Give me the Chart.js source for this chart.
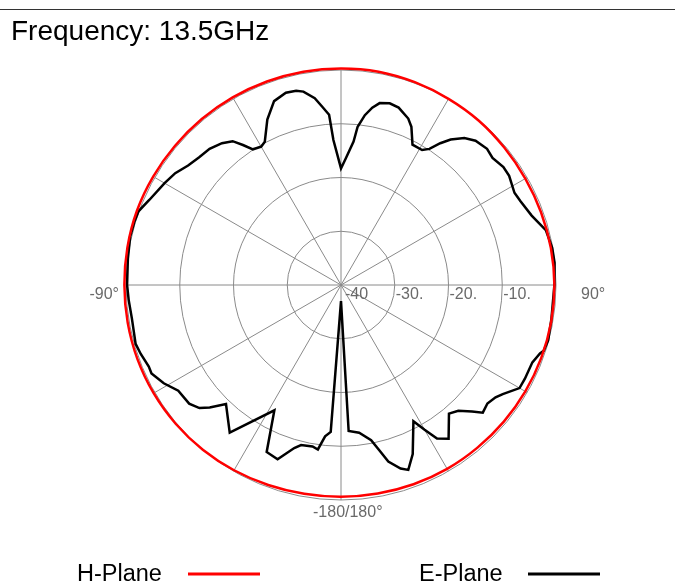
<!DOCTYPE html>
<html>
<head>
<meta charset="utf-8">
<script src="https://cdn.jsdelivr.net/npm/chart.js@4/dist/chart.umd.min.js"></script>
<style>
html,body{margin:0;padding:0;background:#ffffff;}
#wrap{position:relative;width:675px;height:584px;overflow:hidden;}
canvas{display:block;}
</style>
</head>
<body>
<div id="wrap"><canvas id="c" width="675" height="584"></canvas></div>
<script>
// ---- data (angles in degrees, clockwise from top; values in dB) ----
const titleText = 'Frequency: 13.5GHz';
const seriesNames = ['H-Plane', 'E-Plane'];

const hAngles = [0,10,20,30,40,50,60,70,80,90,100,110,120,130,140,150,160,170,
                 180,190,200,210,220,230,240,250,260,270,280,290,300,310,320,330,340,350];
const hValues = [0.3,0.3,0.15,0,-0.1,-0.3,-0.4,-0.4,-0.35,-0.3,-0.3,-0.35,-0.4,-0.45,-0.5,-0.5,-0.55,-0.6,
                 -0.6,-0.55,-0.4,-0.2,0,0.15,0.25,0.3,0.3,0.3,0.35,0.4,0.35,0.3,0.3,0.3,0.3,0.3];

const eAngles = [0,2,5,6,8,10,12,15,18,22,24,27,31,33,35,37,40,43,47,50,54,57,62,65,70,73,75,80,84,90,
                 99,105,108,109,112,117,120,124,126,129,132,134,137,140,145,148,150,152,157,160,162,165,167,169,173,177,
                 180,184,186,188,190,194,196,200,204,208,217,224,227,229,232,237,241,245,247,251,254,261,266,270,
                 277,283,287,290,294,300,304,308,312,316,320,323,325,327,330,332,336,340,344,347,349,352,354,356,357];
const eValues = [-18.3,-16.6,-13.2,-10.4,-8.1,-6.5,-5.4,-5.0,-5.3,-6.6,-7.8,-10.7,-10.7,-9.8,-7.8,-6.1,-4.3,-3.3,-2.85,-3.2,-2.65,-2.7,-3.45,-3.15,-2.25,-1.3,-0.55,-0.1,-0.05,-0.3,
                 -0.35,-0.1,-0.35,-0.85,-1.6,-1.6,-1.65,-3.7,-4.45,-4.95,-4.5,-6.1,-8.0,-8.75,-5.1,-6.3,-8.9,-11.3,-5.85,-3.4,-4.1,-6.0,-8.5,-10.6,-12.3,-12.8,
                 -37.0,-12.6,-11.7,-9.1,-9.5,-9.3,-8.45,-5.5,-6.0,-13.6,-5.6,-9.2,-6.6,-5.1,-4.15,-3.9,-2.3,-1.1,-1.15,-0.6,-0.25,-0.6,-0.4,-0.2,
                 -0.05,0.25,0.2,0.1,-1.0,-2.1,-2.8,-3.9,-4.5,-4.8,-5.55,-6.5,-8.2,-9.9,-10.3,-9.8,-6.3,-3.6,-2.8,-2.9,-3.35,-4.9,-6.65,-8.25,-13.0];

const radialMin = -40, radialMax = 0, radialStep = 10;
const tickValues = [-40, -30, -20, -10];
const tickTexts  = ['-40', '-30.', '-20.', '-10.'];
const axisLabelIdx  = [270, 90, 180];
const axisLabelText = ['-90°', '90°', '-180/180°'];

// ---- build library structures ----
const angleLabels = [];
for (let a = 0; a < 360; a++) angleLabels.push(String(a));
function toSeries(angles, values) {
  const arr = new Array(angleLabels.length).fill(null);
  angles.forEach((a, i) => { arr[a] = values[i]; });
  return arr;
}

const FONT = '"Liberation Sans", Arial, Helvetica, sans-serif';

const textPlugin = {
  id: 'textDecor',
  afterDraw(chart) {
    const c = chart.ctx, s = chart.scales.r;
    c.save();
    // top rule
    c.fillStyle = '#333333';
    c.fillRect(0, 9, 675, 1);
    // title
    c.fillStyle = '#000000';
    c.font = '28px ' + FONT;
    c.textAlign = 'left';
    c.textBaseline = 'alphabetic';
    c.fillText(titleText, 11, 40);
    // radial tick labels (along the 90° axis)
    c.font = '16px ' + FONT;
    c.fillStyle = '#6a6a6a';
    c.textBaseline = 'middle';
    tickValues.forEach((v, i) => {
      const d = s.getDistanceFromCenterForValue(v);
      c.fillText(tickTexts[i], s.xCenter + d + (i === 0 ? 4 : 1), s.yCenter + 10);
    });
    // angle labels
    axisLabelIdx.forEach((idx, i) => {
      const p = s.getPointPositionForValue(idx, radialMax);
      if (idx === 270) { c.textAlign = 'right'; c.fillText(axisLabelText[i], p.x - 7, p.y + 10); }
      else if (idx === 90) { c.textAlign = 'left'; c.fillText(axisLabelText[i], p.x + 25, p.y + 10); }
      else { c.textAlign = 'left'; c.fillText(axisLabelText[i], p.x - 28, p.y + 13); }
    });
    // legend
    c.fillStyle = '#000000';
    c.font = '23.5px ' + FONT;
    c.textAlign = 'left';
    c.textBaseline = 'alphabetic';
    c.fillText(seriesNames[0], 77, 581);
    c.fillText(seriesNames[1], 419, 581);
    c.lineWidth = 3;
    c.strokeStyle = '#ff0000';
    c.beginPath(); c.moveTo(188, 574); c.lineTo(260, 574); c.stroke();
    c.strokeStyle = '#000000';
    c.beginPath(); c.moveTo(528, 574); c.lineTo(600, 574); c.stroke();
    c.restore();
  }
};

new Chart(document.getElementById('c'), {
  type: 'radar',
  data: {
    labels: angleLabels,
    datasets: [
      { label: seriesNames[0], data: toSeries(hAngles, hValues), borderColor: '#ff0000', borderWidth: 2.5,
        pointRadius: 0, pointHoverRadius: 0, fill: false, spanGaps: true, tension: 0.4, clip: false },
      { label: seriesNames[1], data: toSeries(eAngles, eValues), borderColor: '#000000', borderWidth: 2.5,
        pointRadius: 0, pointHoverRadius: 0, fill: false, spanGaps: true, tension: 0, clip: false }
    ]
  },
  options: {
    responsive: false,
    animation: false,
    devicePixelRatio: 1,
    layout: { padding: { left: 126, right: 118, top: 70, bottom: 83 } },
    plugins: { legend: { display: false }, tooltip: { enabled: false }, title: { display: false } },
    scales: {
      r: {
        min: radialMin, max: radialMax,
        ticks: { display: false, stepSize: radialStep },
        pointLabels: { display: false },
        grid: { circular: true, color: '#8a8a8a', lineWidth: 1 },
        angleLines: { display: true, color: '#8a8a8a', lineWidth: (ctx) => (ctx.index % 30 === 0 ? 1 : 0) }
      }
    }
  },
  plugins: [textPlugin]
});
</script>
</body>
</html>
